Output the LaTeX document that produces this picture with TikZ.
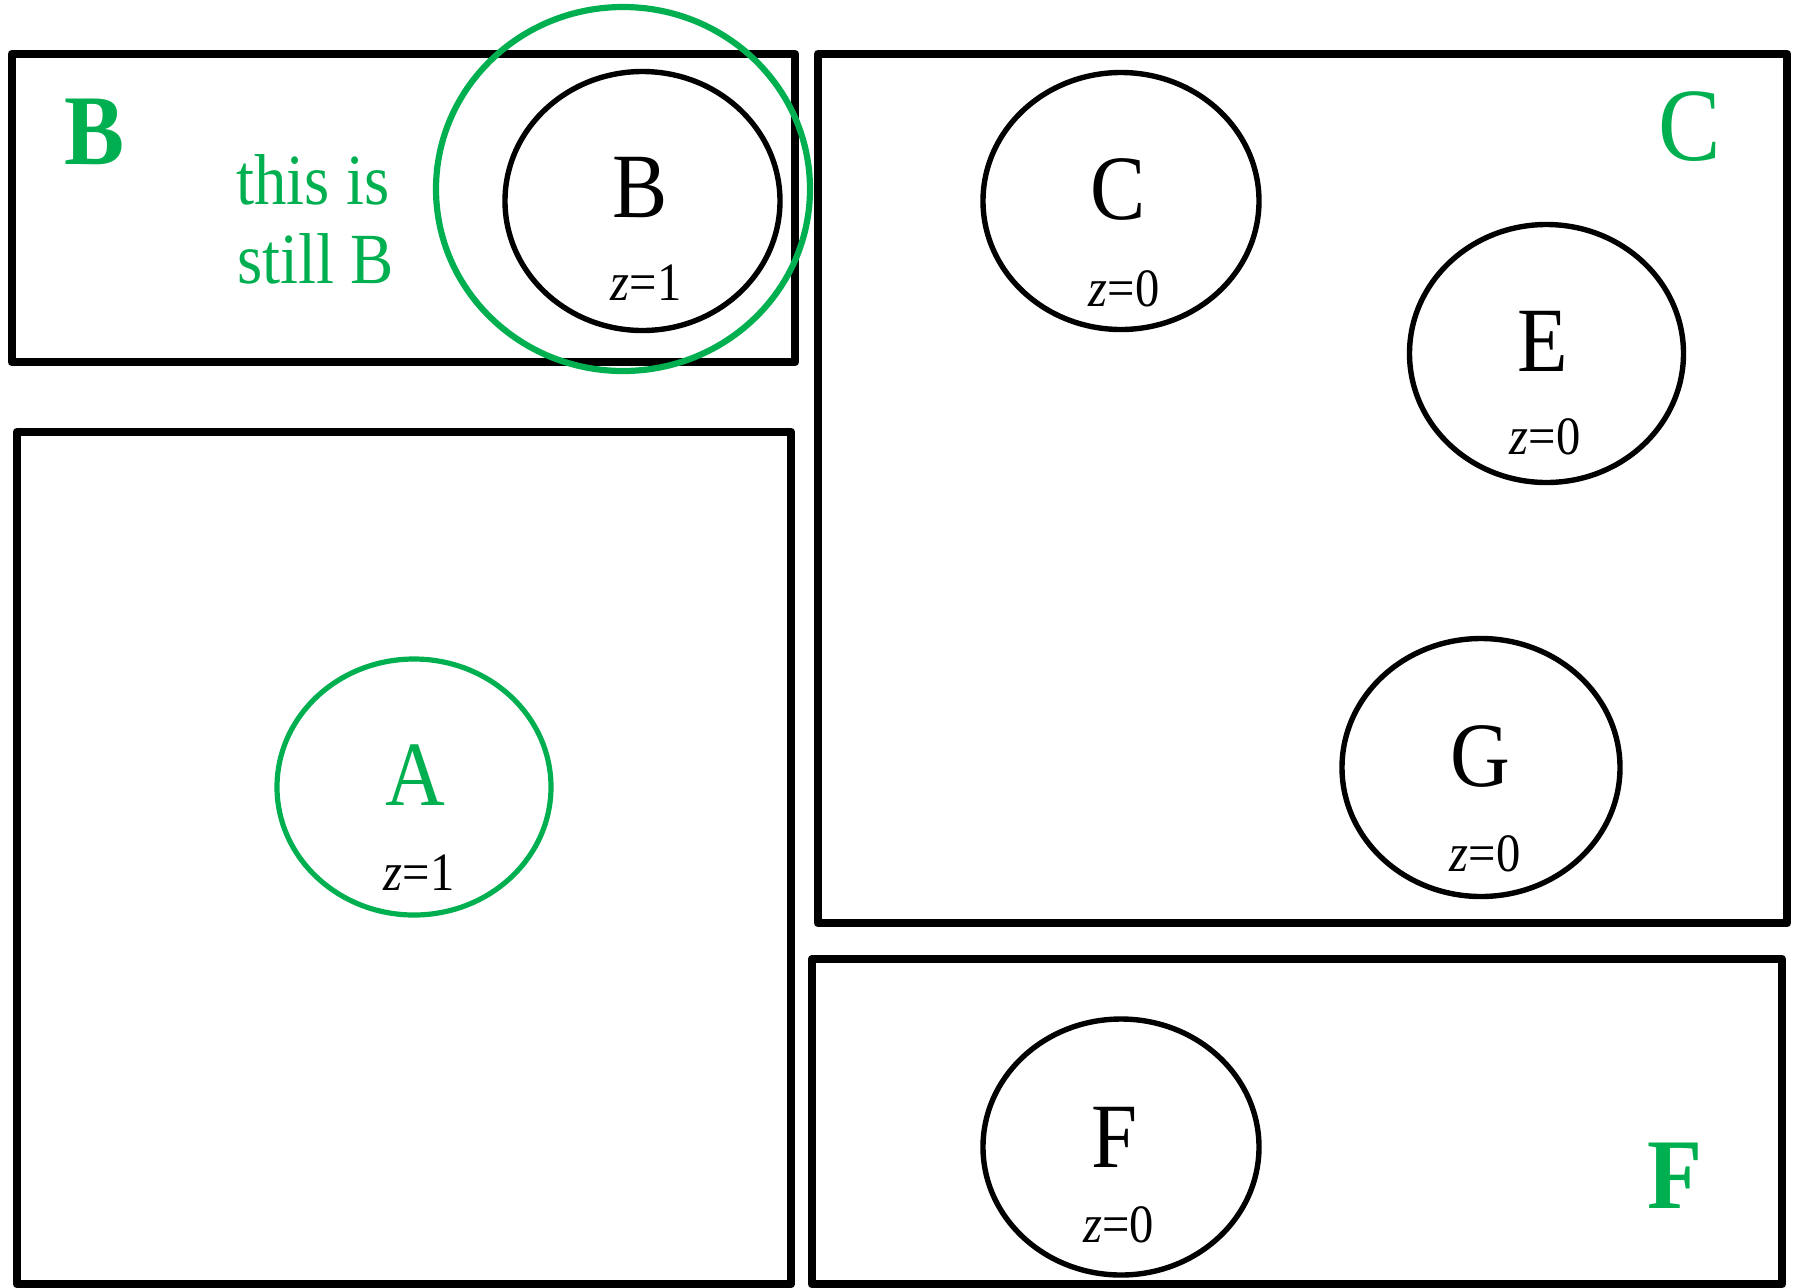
\documentclass[tikz,border=0pt]{standalone}
\usepackage{fontspec}
\setmainfont[FakeStretch=0.9]{Liberation Serif}
\usetikzlibrary{shapes.geometric}
\definecolor{grn}{RGB}{0,176,80}
\begin{document}
\begin{tikzpicture}[x=0.5pt,y=-0.5pt,
  panel/.style={draw=black,line width=4.4pt,line join=round},
  blob/.style={draw=black,line width=2.7pt},
  gblob/.style={draw=grn,line width=2.6pt},
  letter/.style={font=\fontsize{46}{54}\selectfont,inner sep=0pt},
  zlab/.style={font=\fontsize{27}{31}\selectfont,inner sep=0pt},
  tag/.style={text=grn,inner sep=0pt}]
\useasboundingbox (0,0) rectangle (1799,1287);
\fill[white] (0,0) rectangle (1799,1287);
% panels
\draw[panel] (12,54) rectangle (795,362);
\draw[panel] (17,432) rectangle (791,1284);
\draw[panel] (818,54) rectangle (1787,923);
\draw[panel] (812,959) rectangle (1782,1284);
% ellipses
\draw[blob] (642.5,201) ellipse [x radius=137.5, y radius=129.5];
\draw[draw=grn,line width=3.1pt] (623,189) ellipse [x radius=187, y radius=182];
\draw[blob] (1121,201) ellipse [x radius=138, y radius=128.5];
\draw[blob] (1546.5,353.5) ellipse [x radius=137, y radius=129];
\draw[blob] (1481,767.5) ellipse [x radius=139, y radius=129];
\draw[blob] (1121,1147) ellipse [x radius=138, y radius=128];
\draw[gblob] (414,787) ellipse [x radius=137, y radius=128];
% ellipse labels
\node[letter] (lB) at (640,188) {B};
\node[zlab] (zB) at (646,283) {\textit{z}=1};
\node[letter] (lC) at (1118.5,189) {C};
\node[zlab] (zC) at (1124,289) {\textit{z}=0};
\node[letter] (lE) at (1543,341) {E};
\node[zlab] (zE) at (1545,437) {\textit{z}=0};
\node[letter] (lG) at (1480,756) {G};
\node[zlab] (zG) at (1485,853.5) {\textit{z}=0};
\node[letter] (lF) at (1115,1137) {F};
\node[zlab] (zF) at (1118.5,1225) {\textit{z}=0};
\node[letter,text=grn] (lA) at (415,775.5) {A};
\node[zlab] (zA) at (419,873) {\textit{z}=1};
% green panel tags
\node[tag,font=\fontsize{50}{60}\selectfont\bfseries] (tB) at (95,132) {B};
\node[tag,font=\fontsize{36}{40}\selectfont] (t1) at (313,180) {this is};
\node[tag,font=\fontsize{36}{40}\selectfont] (t2) at (315.5,259) {still B};
\node[tag,font=\fontsize{52}{60}\selectfont] (tC) at (1690,127) {C};
\node[tag,font=\fontsize{50}{60}\selectfont\bfseries] (tF) at (1675,1176) {F};
\end{tikzpicture}
\end{document}
